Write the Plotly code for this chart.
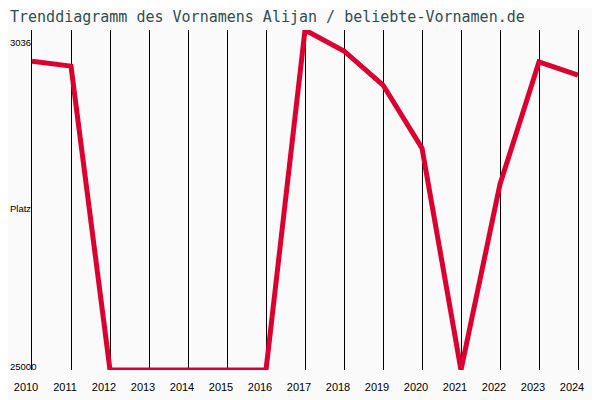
import plotly.graph_objects as go

# Rank of the name per year (lower = more popular)
years = [2010, 2011, 2012, 2013, 2014, 2015, 2016, 2017, 2018, 2019, 2020, 2021, 2022, 2023, 2024]
ranks = [5050, 5370, 25000, 25000, 25000, 25000, 25000, 3036, 4390, 6590, 10670, 25000, 13000, 5100, 5950]

best_rank = 3036
worst_rank = 25000
title = "Trenddiagramm des Vornamens Alijan / beliebte-Vornamen.de"

# the page body adds an 8px offset, so margins are shifted by that much
fig = go.Figure()
fig.add_trace(go.Scatter(
    x=years, y=ranks, mode="lines",
    line=dict(color="#dc0030", width=5),
    hoverinfo="x+y"))

# y labels drawn as annotations (they sit slightly inside the axis ends)
lbl_font = dict(family="Liberation Sans", size=11, color="black")
side_font = dict(family="Liberation Sans", size=9.5, color="black")
left = -24 / 546
fig.add_annotation(text=str(best_rank), xref="paper", yref="y", x=left, y=best_rank,
                   xanchor="left", yshift=-12, showarrow=False, font=side_font)
fig.add_annotation(text=str(worst_rank), xref="paper", yref="y", x=left, y=worst_rank,
                   xanchor="left", yshift=4, showarrow=False, font=side_font)
fig.add_annotation(text="Platz", xref="paper", yref="paper", x=left, y=0.5,
                   xanchor="left", yshift=-8, showarrow=False, font=side_font)

fig.update_layout(
    width=600, height=400,
    margin=dict(l=24, r=30, t=22, b=38, autoexpand=False),
    paper_bgcolor="#fafafa", plot_bgcolor="#fafafa",
    showlegend=False,
    title=dict(text=title, xref="container", yref="container",
               x=2 / 600, xanchor="left", y=1 - 9 / 400, yanchor="middle",
               font=dict(family="DejaVu Sans Mono", size=15, color="#2f4f4f")),
)
fig.update_xaxes(
    range=[years[0], years[-1]], tickvals=years, ticktext=[str(y) for y in years],
    showgrid=True, gridcolor="black", gridwidth=1, zeroline=False, automargin=False,
    showline=False, ticks="", ticklabelshift=-6, ticklabelstandoff=9,
    tickfont=lbl_font)
fig.update_yaxes(
    range=[worst_rank, best_rank], showgrid=False, zeroline=False, automargin=False,
    showticklabels=False, ticks="",
    showline=True, mirror=True, linecolor="black", linewidth=1)

fig.write_html("out.html")
